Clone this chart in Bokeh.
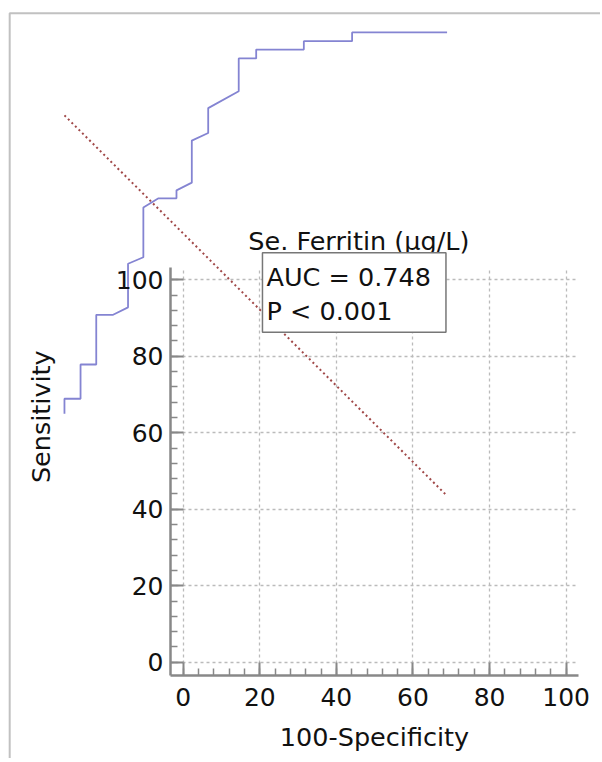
from bokeh.plotting import figure
from bokeh.models import (Range1d, SingleIntervalTicker, Label, BoxAnnotation, Grid)
from bokeh.embed import file_html
from bokeh.resources import INLINE
import math

# ROC curve vertices as they appear on the chart's axes (100-Specificity, Sensitivity)
roc_x = [-31.0, -31.0, -26.8, -26.8, -22.7, -22.7, -18.3, -14.4, -14.4, -10.4, -10.4,
         -6.45, -1.75, -1.75, 2.25, 2.25, 6.53, 6.53, 14.5, 14.5, 19.06, 19.06, 31.5,
         31.5, 44.1, 44.1, 68.9]
roc_y = [65.0, 68.9, 68.9, 77.85, 77.85, 90.85, 90.85, 92.8, 104.2, 105.9, 118.9,
         121.3, 121.3, 123.4, 125.4, 136.4, 138.4, 144.9, 149.3, 157.9, 157.9, 160.2,
         160.2, 162.4, 162.4, 164.7, 164.7]
# reference (diagonal) line end points
diag_x = [-31.0, 68.8]
diag_y = [143.0, 43.6]

tick_interval = 20
x_axis_bounds = (-3.32, 103.1)
y_axis_bounds = (-3.48, 103.2)
title_text = "Se. Ferritin (μg/L)"
stats_text = "AUC = 0.748\nP < 0.001"
x_label = "100-Specificity"
y_label = "Sensitivity"

FONT = "DejaVu Sans"

p = figure(width=600, height=758, output_backend="svg", toolbar_location=None,
           title=None,
           x_range=Range1d(-47.70, 108.96), y_range=Range1d(-25.18, 173.04),
           min_border=0)
p.outline_line_color = None
p.background_fill_color = "white"
p.border_fill_color = "white"

# page frame lines (top and left)
p.add_layout(BoxAnnotation(left=-45.3, top=169.7, right=400, bottom=-400,
                           fill_color=None, line_color="#333", line_width=2))

xa, ya = p.xaxis[0], p.yaxis[0]
xa.fixed_location = y_axis_bounds[0]
ya.fixed_location = x_axis_bounds[0]
xa.bounds = x_axis_bounds
ya.bounds = y_axis_bounds
for ax in (xa, ya):
    ax.ticker = SingleIntervalTicker(interval=tick_interval, num_minor_ticks=5)
    ax.axis_line_color = "#888"
    ax.axis_line_width = 2.5
    ax.major_tick_line_color = "#888"
    ax.major_tick_line_width = 2
    ax.minor_tick_line_color = "#888"
    ax.minor_tick_line_width = 1.5
    ax.major_tick_in = 13
    ax.major_tick_out = 0
    ax.minor_tick_in = 7
    ax.minor_tick_out = 0
    ax.major_label_text_font = FONT
    ax.major_label_text_font_size = "25px"
    ax.major_label_text_color = "#111"
ya.major_label_standoff = 7
xa.major_label_standoff = 12

xa.axis_label = x_label
xa.axis_label_text_font = FONT
xa.axis_label_text_font_size = "25.5px"
xa.axis_label_text_font_style = "normal"
xa.axis_label_text_color = "#111"
xa.axis_label_standoff = 13

grids = [(p.xgrid[0], y_axis_bounds, x_axis_bounds), (p.ygrid[0], x_axis_bounds, y_axis_bounds)]
has_cross = "cross_bounds" in Grid.properties()
for g, cross, own in grids:
    g.ticker = SingleIntervalTicker(interval=tick_interval)
    g.bounds = own
    g.grid_line_color = "#bbb"
    g.grid_line_dash = "3 3"
    g.grid_line_width = 1.3
    if has_cross:
        g.cross_bounds = cross
    else:
        g.visible = False

if not has_cross:
    ticks = list(range(0, 101, tick_interval))
    p.segment(x0=ticks, x1=ticks, y0=[y_axis_bounds[0]] * len(ticks),
              y1=[y_axis_bounds[1]] * len(ticks), line_color="#bbb",
              line_dash="3 3", line_width=1.3, level="underlay")
    p.segment(y0=ticks, y1=ticks, x0=[x_axis_bounds[0]] * len(ticks),
              x1=[x_axis_bounds[1]] * len(ticks), line_color="#bbb",
              line_dash="3 3", line_width=1.3, level="underlay")

p.line(roc_x, roc_y, line_color="#8484d2", line_width=1.8)
p.line(diag_x, diag_y, line_color="#a04848", line_width=2, line_dash="2 3")

p.add_layout(Label(x=17.0, y=110.1, text=title_text, text_font=FONT,
                   text_font_size="25.5px", text_color="#111",
                   text_align="left", text_baseline="alphabetic"))

p.add_layout(Label(x=-37.0, y=64.2, text=y_label, angle=math.pi / 2,
                   text_font=FONT, text_font_size="25.5px", text_color="#111",
                   text_align="center", text_baseline="alphabetic"))

p.add_layout(Label(x=20.7, y=107.05, text=stats_text, anchor="top_left",
                   text_font=FONT, text_font_size="25.5px", text_color="#111",
                   text_line_height=1.15,
                   padding=dict(left=4, right=15, top=9, bottom=6),
                   border_line_color="#777", border_line_width=1.5,
                   background_fill_color="white"))

open("out.html", "w").write(file_html(p, INLINE))
